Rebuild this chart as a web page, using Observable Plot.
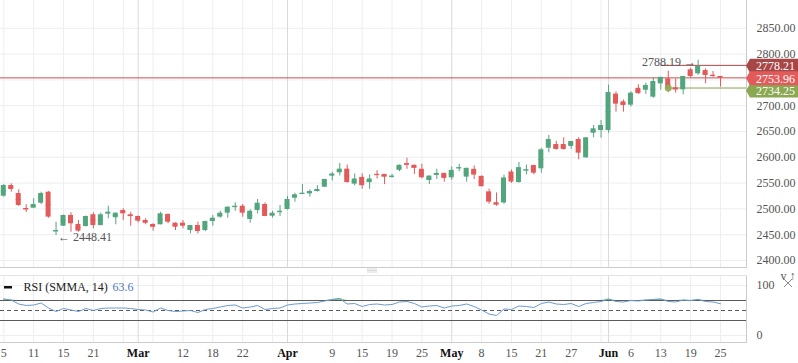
<!DOCTYPE html>
<html><head><meta charset="utf-8">
<script src="https://cdn.jsdelivr.net/npm/d3@7"></script>
<script src="https://cdn.jsdelivr.net/npm/@observablehq/plot@0.6"></script>
<style>
body{margin:0;background:#fff;}
#wrap{position:relative;width:798px;height:363px;overflow:hidden;font-family:"Liberation Serif",serif;background:#fff;}
#wrap svg{position:absolute;left:0;}
</style></head><body><div id="wrap"></div>
<script>
// ---- data (one entry per trading session) ----
const open = [2524.6,2545.3,2529.8,2500.8,2501.4,2511,2532.4,2456.2,2466.5,2487.2,
2469.8,2465.9,2488.6,2467.8,2490.5,2482.8,2496.9,2488.6,2485.3,2477.5,
2469.8,2469.2,2489.1,2472.3,2472.3,2458.1,2467.8,2458.1,2475.6,2484,
2491.7,2503.3,2505.2,2479.5,2496.9,2508.5,2485.9,2493.6,2498.8,2520.7,
2529.3,2529.3,2533.7,2542,2564,2570,2577,2548,2561,2551,
2567,2566.8,2561.6,2574.7,2587.8,2584.5,2576.7,2555,2565.5,2568.8,
2560.3,2578.6,2561.6,2576.7,2563,2533,2512,2511.5,2571.5,2551,
2574.3,2584,2577.7,2617.6,2624.8,2624.8,2621,2634.5,2599,2646.7,
2651.9,2651.9,2722.5,2707.5,2701,2733.7,2730,2716.5,2742.4,2752.1,
2734.7,2730.8,2769.6,2761.8,2768.2,2759.1,2756.6];
const high = [2547,2548.6,2537,2508,2519.6,2532.4,2533.7,2474.2,2488,2492.4,
2477.5,2486,2492.4,2491.7,2505.2,2492,2500.2,2493.6,2486,2480.8,
2471.1,2493.6,2490.5,2473,2477.5,2468,2474.2,2476,2487.2,2495.5,
2504,2511.8,2508.5,2498.3,2518.2,2511.8,2495.5,2506.6,2524,2530.4,
2547.3,2537,2545.3,2557.5,2571,2588,2585,2567.5,2568,2566,
2574,2567,2567,2585,2598.3,2585,2586.5,2564,2576.7,2569,
2581.2,2586.5,2579,2583.2,2564,2538.5,2531,2565.5,2575.5,2590,
2585,2584.5,2617.5,2642.3,2631.2,2637.8,2631,2637.8,2638,2661.6,
2671.3,2740,2727,2711,2727,2740.5,2743.7,2754.5,2755,2766.9,
2752.1,2757,2772.8,2788.19,2771.5,2766.3,2757];
const low = [2522.7,2532.4,2504.7,2493,2501,2508.5,2482,2448.41,2466,2454.8,
2454.8,2465,2461.4,2467,2480.8,2469.2,2477.5,2466.5,2473.1,2469.2,
2456.8,2469,2471.1,2458.1,2461.4,2451.7,2451.7,2456.2,2466.5,2482,
2482,2495.5,2484,2472.3,2490.5,2485,2482,2485.3,2498,2513,
2529,2522.7,2532.4,2541.5,2554,2564,2550,2544.5,2538,2538,
2558,2547,2560,2572,2576.7,2566.8,2558.3,2547,2557,2551.8,
2555.7,2572,2551.8,2557,2542.5,2509,2505,2509,2549.5,2550,
2566,2566,2569.2,2608.7,2613.8,2613.8,2615.2,2595.2,2598,2637.8,
2637,2646.7,2687.4,2687.5,2697.5,2722,2722,2714.5,2730,2725,
2724.3,2721.1,2754,2759,2742.5,2755,2736];
const close = [2545.3,2537.6,2506.6,2498.8,2508.5,2529.8,2484,2458.1,2487.2,2471.1,
2456.8,2485.3,2467.8,2488.6,2493.6,2491.7,2490.5,2485.3,2476.2,2472.3,
2464.5,2490.5,2474.2,2464.5,2466.5,2467.8,2456.2,2475.6,2482,2491.7,
2503.3,2505.2,2491.7,2495.5,2511,2485.3,2491.7,2495.5,2518.2,2527.3,
2530.4,2533.7,2537.6,2557,2567.5,2577,2551,2558,2545,2558,
2566,2561.6,2563.6,2584.5,2585.2,2578.6,2560.3,2563.6,2568.8,2559,
2574.7,2580,2578.6,2565.5,2543,2513,2507.5,2560,2552,2580,
2575.8,2569.2,2614.5,2634.5,2615.2,2615.2,2630.6,2608,2637.8,2655.2,
2661.6,2725.5,2703,2700.5,2724.3,2723.4,2739.2,2746.9,2755,2730.8,
2730.8,2756.6,2756.6,2776,2758.5,2757.8,2753.96];
const rsi = [73,71,63,60,61,65,55,48,54,51,
48,54,50,54,55,55,55,54,52,51,
47,55,50,48,49,50,46,52,54,57,
60,61,55,57,60,52,54,55,61,63,
64,65,66,69,72,74,63,64,58,62,
63,61,62,67,68,64,57,59,60,55,
59,60,63,58,51,43,40,53,52,59,
58,56,64,67,63,62,64,58,64,66,
68,73,68,67,70,69,71,72,73,68,
67,71,70,72,68,67,63.6];
const tickIdx   = [0,4,8,12,16,18,20,24,28,32,36,38,40,44,48,52,56,60,64,68,72,76,80,81,84,88,92,96];
const tickLabel = ["5","11","15","21","","Mar","","12","18","22","","Apr","","9","15","19","25","May","8","15","21","27","","Jun","6","13","19","25"];
const priceTicks = [2400,2450,2500,2550,2600,2650,2700,2750,2800,2850];
const rsiTicks = [0,100];
const rsiBands = [30,50,70];
const lastPrice = 2753.96, markHigh = 2778.21, markLow = 2734.25;
const markHighFrom = 88, markLowFrom = 89;
const lowNote = {i:7, v:2448.41}, highNote = {i:93, v:2788.19};

// ---- derived tables ----
const bars = open.map((o,i)=>({i,o,h:high[i],l:low[i],c:close[i],m:(o+close[i])/2,up:close[i]>o}));
const rsiData = rsi.map((v,i)=>({i,v}));
const ticks = tickIdx.map((i,k)=>({i,label:tickLabel[k],month:/^[A-Za-z]/.test(tickLabel[k])}));
const GREEN="#53a57e", RED="#e35a5a";
const col = d => d.up ? GREEN : RED;
const xDomain = [-0.442, 99.48];
const font = "Liberation Serif";
// axis labels hidden behind the price tags in the reference
const shownPriceLabels = priceTicks.filter(v => Math.abs(v - lastPrice) > 12);

const gridMarks = [
  Plot.ruleX(ticks.filter(d=>!d.month), {x:"i", stroke:"#eceef2"}),
  Plot.ruleX(ticks.filter(d=>d.month), {x:"i", stroke:"#d9dadd"}),
  Plot.ruleX([xDomain[1]], {stroke:"#c9cbcf"})
];

const main = Plot.plot({
  width:798, height:268, marginTop:0, marginBottom:1, marginLeft:0, marginRight:52,
  style:{fontFamily:font, fontSize:"12px", background:"transparent", overflow:"visible"},
  x:{domain:xDomain, axis:null},
  y:{domain:[2386.4, 2903.9], axis:null},
  marks:[
    Plot.ruleY(priceTicks, {stroke:"#eceef2"}),
    ...gridMarks,
    Plot.frame({anchor:"bottom", stroke:"#c9cbcf"}),
    Plot.ruleY([lastPrice], {stroke:"#c85050"}),
    Plot.ruleY([markHigh], {x1:markHighFrom, x2:xDomain[1], stroke:"#a84646"}),
    Plot.ruleY([markLow], {x1:markLowFrom, x2:xDomain[1], stroke:"#86a34e"}),
    Plot.ruleX(bars, {x:"i", y1:"l", y2:"h", stroke:col}),
    Plot.rect(bars, {x1:d=>d.i-0.335, x2:d=>d.i+0.335, y1:"o", y2:"c", fill:col}),
    Plot.ruleY(bars, {y:"m", x1:d=>d.i-0.335, x2:d=>d.i+0.335, stroke:col}),
    Plot.dot([{i:markLowFrom, v:markLow}], {x:"i", y:"v", r:3.5, fill:"#8fae55", fillOpacity:0.9}),
    Plot.axisY(shownPriceLabels, {anchor:"right", tickSize:0, tickPadding:10, tickFormat:d=>d.toFixed(2), color:"#555", fontSize:12}),
    Plot.text([lowNote], {x:"i", y:"v", text:d=>"← "+d.v.toFixed(2), textAnchor:"start", dx:2, dy:2, fill:"#555", fontSize:12}),
    Plot.text([highNote], {x:"i", y:"v", text:d=>d.v.toFixed(2)+" →", textAnchor:"end", dx:-2, dy:2, fill:"#555", fontSize:12})
  ]
});
main.style.top = "0px";

// price tags on the right axis
const ys = main.scale("y");
const tags = [
  {v:markLow, color:"#89a850", shift:3},
  {v:markHigh, color:"#a84646", shift:1},
  {v:lastPrice, color:"#e25a5a", shift:1}
];
const tg = d3.select(main).append("g").attr("text-anchor","start");
for (const t of tags) {
  const yc = ys.apply(t.v) + t.shift;
  tg.append("path").attr("d", `M746,${yc} L750,${yc-7} L798,${yc-7} L798,${yc+7} L750,${yc+7} Z`).attr("fill", t.color);
  tg.append("text").attr("x",756).attr("y",yc).attr("dy","0.35em").attr("fill","#fff").attr("text-anchor","start")
    .style("font-family",font).style("font-size","12px").text(t.v.toFixed(2));
}

const rsiPlot = Plot.plot({
  width:798, height:95, marginTop:7, marginBottom:21, marginLeft:0, marginRight:52,
  style:{fontFamily:font, fontSize:"12px", background:"transparent", overflow:"visible"},
  x:{domain:xDomain, axis:null},
  y:{domain:[-14,120], axis:null},
  marks:[
    Plot.ruleY(rsiTicks, {stroke:"#eceef2"}),
    ...gridMarks,
    Plot.frame({anchor:"top", stroke:"#e2e3e6"}),
    Plot.frame({anchor:"bottom", stroke:"#c9cbcf"}),
    Plot.areaY(rsiData, {x:"i", y1:70, y2:d=>Math.max(70,d.v), fill:"#7fd07f", fillOpacity:0.85}),
    Plot.ruleY([rsiBands[0], rsiBands[2]], {stroke:"#5a5a5a"}),
    Plot.ruleY([rsiBands[1]], {stroke:"#5a5a5a", strokeDasharray:"4,3"}),
    Plot.line(rsiData, {x:"i", y:"v", stroke:"#6d9ad0", strokeWidth:1}),
    Plot.axisY(rsiTicks, {anchor:"right", tickSize:0, tickPadding:10, color:"#555", fontSize:12}),
    Plot.text(ticks.filter(d=>!d.month), {x:"i", text:"label", frameAnchor:"bottom", lineAnchor:"middle", dy:11, fill:"#555", fontSize:12}),
    Plot.text(ticks.filter(d=>d.month), {x:"i", text:"label", frameAnchor:"bottom", lineAnchor:"middle", dy:11, fill:"#111", fontWeight:"bold", fontSize:12}),
    Plot.text(["RSI (SMMA, 14)"], {frameAnchor:"top-left", lineAnchor:"middle", dx:23, dy:12, textAnchor:"start", fill:"#222", fontSize:12}),
    Plot.text([rsi[rsi.length-1].toFixed(1)], {frameAnchor:"top-left", lineAnchor:"middle", dx:112, dy:12, textAnchor:"start", fill:"#4a78b6", fontSize:12})
  ]
});
rsiPlot.style.top = "268px";
const rg = d3.select(rsiPlot).append("g");
rg.append("rect").attr("x",4).attr("y",18).attr("width",8).attr("height",2.5).attr("fill","#111");
[1,2.5,4].forEach(y=>rg.append("line").attr("x1",367).attr("x2",377).attr("y1",y).attr("y2",y).attr("stroke","#cfd1d4").attr("stroke-width",0.8));
rg.append("path").attr("d","M784,11 L792,19 M792,11 L784,19").attr("stroke","#888").attr("stroke-width",1).attr("fill","none");

const wrap = document.getElementById("wrap");
wrap.appendChild(main);
wrap.appendChild(rsiPlot);
</script></body></html>
